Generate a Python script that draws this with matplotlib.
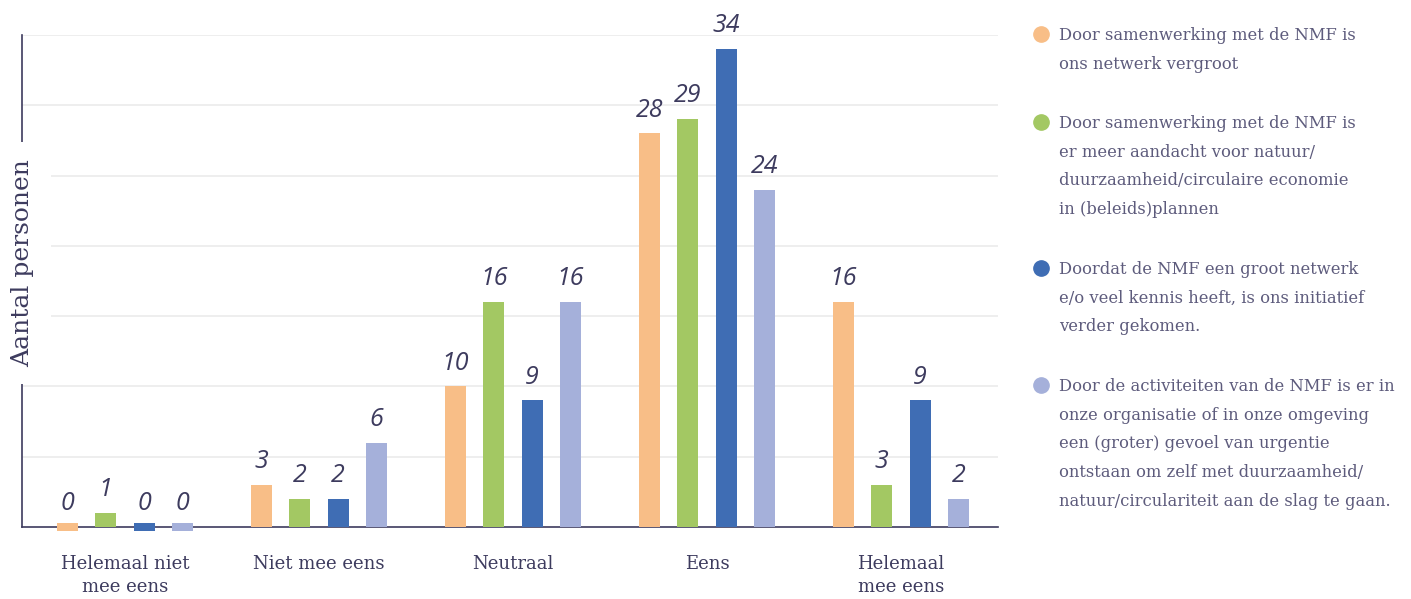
import matplotlib.pyplot as plt
import numpy as np

# Data
categories = ["Helemaal niet\nmee eens", "Niet mee eens", "Neutraal", "Eens", "Helemaal\nmee eens"]
series_labels = [
    "Door samenwerking met de NMF is\nons netwerk vergroot",
    "Door samenwerking met de NMF is\ner meer aandacht voor natuur/\nduurzaamheid/circulaire economie\nin (beleids)plannen",
    "Doordat de NMF een groot netwerk\ne/o veel kennis heeft, is ons initiatief\nverder gekomen.",
    "Door de activiteiten van de NMF is er in\nonze organisatie of in onze omgeving\neen (groter) gevoel van urgentie\nontstaan om zelf met duurzaamheid/\nnatuur/circulariteit aan de slag te gaan.",
]
netwerk = [0, 3, 10, 28, 16]
aandacht = [1, 2, 16, 29, 3]
initiatief = [0, 2, 9, 34, 9]
urgentie = [0, 6, 16, 24, 2]
series = [netwerk, aandacht, initiatief, urgentie]
colors = ["#F8BE87", "#A3C863", "#3F6DB4", "#A5B0DA"]

text_color = "#3d3b5e"
legend_color = "#5d5b7c"
serif = "DejaVu Serif"

W, H = 1411, 599
fig = plt.figure(figsize=(W / 100, H / 100), dpi=100)
ax = fig.add_axes([22 / W, (H - 527) / H, (998 - 22) / W, (527 - 35) / H])

x = np.arange(len(categories))
bar_w = 0.108
step = 0.198
for i, (vals, c) in enumerate(zip(series, colors)):
    vals = np.array(vals, dtype=float)
    pos = x + (i - 1.5) * step
    # zero values still get a thin sliver around the baseline
    heights = np.where(vals == 0, 0.5, vals)
    bottoms = np.where(vals == 0, -0.25, 0)
    ax.bar(pos, heights, bar_w, bottom=bottoms, color=c, zorder=3, clip_on=False)
    for p, v in zip(pos, vals):
        ax.text(p, v + 1.2, f"{int(v)}", ha="center", va="baseline",
                fontsize=18, style="italic", family="Open Sans",
                color=text_color)

ax.set_xlim(-0.53, 4.5)
ax.set_ylim(0, 35)
ax.set_yticks(np.arange(5, 36, 5))
ax.yaxis.grid(True, color="#ebebeb", linewidth=1.2, zorder=0)
ax.tick_params(axis="y", length=0, labelleft=False)
ax.set_xticks(x)
ax.set_xticklabels(categories, fontsize=13, family=serif, color=text_color,
                   linespacing=1.35)
ax.tick_params(axis="x", length=0, pad=20.5)
for s in ["top", "right"]:
    ax.spines[s].set_visible(False)
for s in ["left", "bottom"]:
    ax.spines[s].set_color(text_color)
    ax.spines[s].set_linewidth(1.2)
ax.set_axisbelow(True)

# y label on top of the spine with a white box (leaves a gap in the axis line)
ax.text(0.001, (527 - 263) / 492, "Aantal personen", rotation=90, ha="center",
        va="center", transform=ax.transAxes, fontsize=18, family=serif,
        color=text_color, zorder=10, clip_on=False,
        bbox=dict(facecolor="white", edgecolor="none", pad=12))

# Legend drawn manually
line_h = 29
y0 = 35
for lbl, c in zip(series_labels, colors):
    n = lbl.count("\n") + 1
    fig.text(1059 / W, 1 - (y0 - 8) / H, lbl, ha="left", va="top", fontsize=11.75,
             family=serif, color=legend_color, linespacing=1.9)
    fig.lines.append(plt.Line2D([1041 / W], [1 - (y0 - 1) / H], marker="o",
                                markersize=11, color=c, transform=fig.transFigure))
    y0 += n * line_h + 30

fig.savefig("out.png", dpi=100, facecolor="white")
